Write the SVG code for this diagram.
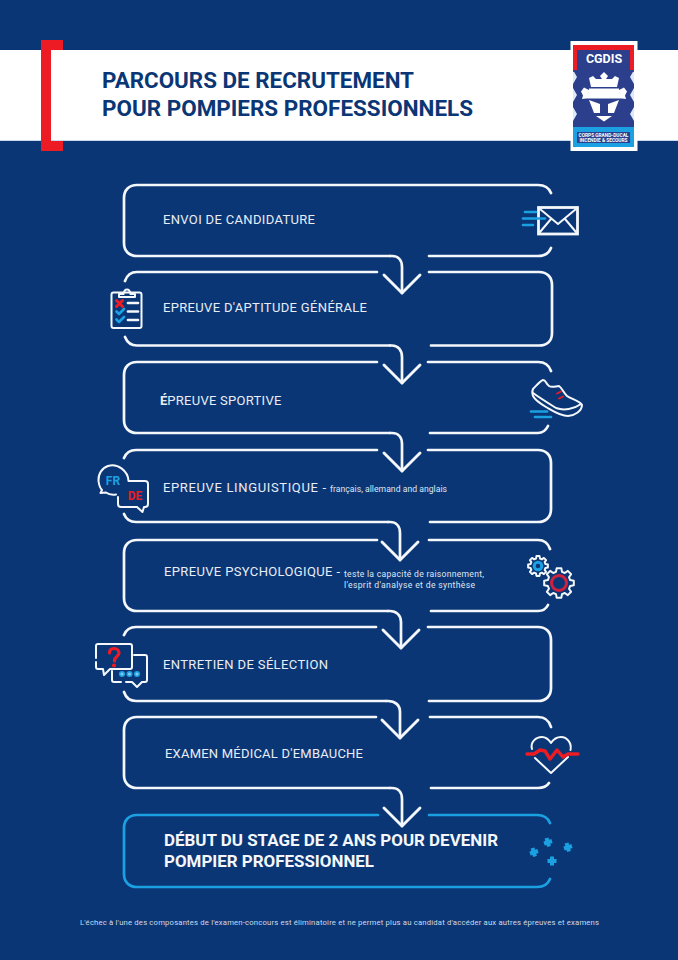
<svg xmlns="http://www.w3.org/2000/svg" width="678" height="960" viewBox="0 0 678 960">
<style>
.o{fill:none;stroke:#f4f7fb;stroke-width:2.7;stroke-linecap:round;stroke-linejoin:round}
.b{fill:none;stroke:#1ba1e2;stroke-width:2.7;stroke-linecap:round;stroke-linejoin:round}
.r{fill:none;stroke:#ed1c24;stroke-linecap:round;stroke-linejoin:round}
.i{fill:none;stroke:#f4f7fb;stroke-width:2;stroke-linecap:round;stroke-linejoin:round}
.t{font-family:Roboto,"Liberation Sans",sans-serif;font-size:13px;fill:#e9eef6}
.s{font-family:Roboto,"Liberation Sans",sans-serif;font-size:8.6px;fill:#dfe6f1}
.h{font-family:Roboto,"Liberation Sans",sans-serif;font-weight:700;font-size:21.5px;fill:#0a3675}
.f{font-family:Roboto,"Liberation Sans",sans-serif;font-weight:700;font-size:16.5px;fill:#f4f7fb}
.l{font-family:Roboto,"Liberation Sans",sans-serif;font-weight:700;fill:#fff}
</style>
<defs>
<marker id="chev" markerUnits="userSpaceOnUse" markerWidth="44" markerHeight="44" viewBox="0 0 44 44" refX="22" refY="22" orient="auto">
<path d="M4 4 L22 22 L4 40" fill="none" stroke="#f4f7fb" stroke-width="2.900" stroke-linecap="round" stroke-linejoin="round"/>
</marker>
<path id="gear" d="M7.44 -1.99L9.88 -1.56 9.88 1.56 7.44 1.99 6.67 3.85 8.09 5.88 5.88 8.09 3.85 6.67 1.99 7.44 1.56 9.88 -1.56 9.88 -1.99 7.44 -3.85 6.67 -5.88 8.09 -8.09 5.88 -6.67 3.85 -7.44 1.99 -9.88 1.56 -9.88 -1.56 -7.44 -1.99 -6.67 -3.85 -8.09 -5.88 -5.88 -8.09 -3.85 -6.67 -1.99 -7.44 -1.56 -9.88 1.56 -9.88 1.99 -7.44 3.85 -6.67 5.88 -8.09 8.09 -5.88 6.67 -3.85Z" fill="none" stroke="#f4f7fb" stroke-width="2" stroke-linejoin="round" vector-effect="non-scaling-stroke"/>
</defs>
<rect width="678" height="960" fill="#0a3675"/>

<g id="header">
<rect x="0" y="50" width="678" height="90" fill="#fff"/>
<rect x="0" y="140" width="678" height="1" fill="#c9d8ee"/>
<path d="M41 40H63V50H51V141H63V151H41Z" fill="#ed1c24"/>
<text class="h" x="102" y="88" textLength="312" lengthAdjust="spacingAndGlyphs">PARCOURS DE RECRUTEMENT</text>
<text class="h" x="102" y="116" textLength="371" lengthAdjust="spacingAndGlyphs">POUR POMPIERS PROFESSIONNELS</text>
</g>

<g id="logo">
<rect x="570.500" y="41" width="67" height="110" fill="#fff"/>
<rect x="573" y="45" width="61" height="102" fill="#dbe9f8"/>
<path d="M573 45H634V72H573Z" fill="#ed1c24"/>
<path d="M577 50H630V70H634L630 77 634 84V88L630 95 634 102V107L630 114 634 121V127H573V121L577 114 573 107V102L577 95 573 88V84L577 77 573 70H577Z" fill="#2b3f8c"/>
<rect x="573" y="127" width="61" height="20" fill="#1ba1e2"/>
<rect x="577" y="132" width="53" height="11" fill="#2b3f8c"/>
<text class="l" x="604" y="63" font-size="12.500" text-anchor="middle">CGDIS</text>
<path d="M604 72L608 76 606 79H612L615 76 619 78 617 87H591L589 78 593 76 596 79H602L600 76Z" fill="#fff"/>
<path d="M589 88.500H619V90L624 87.500 627 91.500 625 95.500 626 99 622 98.500H586L582 99 583 95.500 581 91.500 584 87.500 589 90Z" fill="#fff"/>
<path d="M589 100L600 104V113H594ZM619 100L608 104V113H614Z" fill="#fff"/>
<path d="M596 116H612L604 121.500Z" fill="#fff"/>
<text class="l" x="603.500" y="137" font-size="4.800" text-anchor="middle">CORPS GRAND-DUCAL</text>
<text class="l" x="603.500" y="142" font-size="4.800" text-anchor="middle">INCENDIE &amp; SECOURS</text>
</g>

<g id="connectors">
<path class="o" d="M390 256H392C398 256 402 260 402 267V293" marker-end="url(#chev)"/>
<path class="o" d="M390 345.500H392C398 345.500 402 350 402 357V383" marker-end="url(#chev)"/>
<path class="o" d="M390 433H392C398 433 402 437 402 444V471" marker-end="url(#chev)"/>
<path class="o" d="M388 522H390C396 522 400 526 400 533V560" marker-end="url(#chev)"/>
<path class="o" d="M388 611H390C396 611 401 615 401 622V648" marker-end="url(#chev)"/>
<path class="o" d="M386 701H388C395 701 400 705 400 712V738" marker-end="url(#chev)"/>
<path class="o" d="M390 788H392C398 788 402 792 402 799V826" marker-end="url(#chev)"/>
</g>

<g id="n1">
<path class="o" d="M551 193C549 188 544 185 538 185H137C129 185 124 190 124 198V243C124 251 129 256 137 256H390"/>
<path class="o" d="M429 256H538C544 256 549 253 551 248"/>
<text class="t" x="163" y="224" textLength="152">ENVOI DE CANDIDATURE</text>
<g>
<rect x="538.500" y="207.500" width="39" height="26.500" fill="none" stroke="#f4f7fb" stroke-width="2.800"/>
<path class="i" stroke-width="2.500" d="M540 209L558 224 576 209M540 232L551 219M576 232L565 219"/>
<path class="b" stroke-linecap="butt" d="M525 212H536M523 218.500H545M523 225H533"/>
</g>
</g>

<g id="n2">
<path class="o" d="M125 281C127 275 131 272 137 272H377"/>
<path class="o" d="M429 272H539C547 272 552 277 552 285V333C552 341 547 345.500 539 345.500H431"/>
<path class="o" d="M125 337C127 342 131 345.500 137 345.500H390"/>
<text class="t" x="163" y="312" textLength="204">EPREUVE D'APTITUDE GÉNÉRALE</text>
<g>
<rect x="111.500" y="292.500" width="30" height="35.500" rx="2" class="i" stroke-width="2.300"/>
<path class="i" d="M119 297V294H123.500C124 291 125 289.500 127 289.500S130 291 130.500 294H135V297Z"/>
<path class="r" stroke-width="3" stroke-linecap="butt" d="M116.500 300.500L122.500 306.500M122.500 300.500L116.500 306.500"/>
<path class="b" stroke-width="2.500" d="M116.500 311.500L119 314 124 309M116.500 319.500L119 322 124 317"/>
<path class="o" stroke-width="2.200" stroke-linecap="butt" d="M128 303H138M128 311.500H138M128 320H138"/>
</g>
</g>

<g id="n3">
<path class="o" d="M377 362H137C129 362 124 367 124 375V420C124 428 129 433 137 433H390"/>
<path class="o" d="M428 362H538C544 362 549 365 551 371"/>
<path class="o" d="M430 433H538C543 433 546 430 548 426"/>
<text class="t" x="160" y="405"><tspan font-weight="700">É</tspan><tspan textLength="114">PREUVE SPORTIVE</tspan></text>
<g>
<path class="i" stroke-width="1.600" d="M533 389C537 385 540 381 543 380C546 380 546 384 549 386C552 388 556 386 559 386C562 388 563 392 567 396C571 399 580 401 582 405C582 411 574 416 568 416C560 416 553 411 546 407C541 404 535 400 533 396C532 393 532 391 533 389Z"/>
<path class="i" stroke-width="1.600" d="M533 393C540 398 548 403 556 408C564 411 574 409 581 404"/>
<path class="r" stroke="#d0213f" stroke-width="1.700" d="M557 393.500L561 391.500M559 398.500L563 396.500"/>
<path class="b" stroke-width="1.500" stroke-linecap="butt" d="M531 411.500H542M544 411.500H547M535 417H547M549 417H551"/>
</g>
</g>

<g id="n4">
<path class="o" d="M124 458C126 453 130 450 136 450H377"/>
<path class="o" d="M428 450H538C546 450 551 455 551 463V509C551 517 546 522 538 522H430"/>
<path class="o" d="M124 514C126 519 130 522 136 522H388"/>
<text class="t" x="163" y="492" textLength="163">EPREUVE LINGUISTIQUE -</text>
<text class="s" x="330" y="492" textLength="117">français, allemand and anglais</text>
<g>
<path class="i" stroke-width="2.200" d="M108 466C102 468 98 474 98.500 481C99 485 100 488 102 490L100.500 493L106 492.500C108 494 112 495 116 494.500"/>
<path class="i" stroke-width="2.200" d="M108 466C118 463 128 471 128.500 481"/>
<path class="i" stroke-width="2.200" d="M129 481H145C147 481 148 482 148 484V504C148 506 147 507 145 507H144L142.500 512 137 507H121C119 507 118 506 118 504V497"/>
<text x="113" y="484.500" font-family="Roboto,sans-serif" font-weight="700" font-size="12" fill="#1ba1e2" text-anchor="middle">FR</text>
<text x="135" y="500" font-family="Roboto,sans-serif" font-weight="700" font-size="12" fill="#ed1c24" text-anchor="middle">DE</text>
</g>
</g>

<g id="n5">
<path class="o" d="M377 540H137C129 540 124 545 124 553V598C124 606 129 611 137 611H388"/>
<path class="o" d="M429 540H538C544 540 548 543 550 549"/>
<path class="o" d="M431 611H538C543 611 546 609 548 605"/>
<text class="t" x="164" y="576" textLength="176">EPREUVE PSYCHOLOGIQUE -</text>
<text class="s" x="344" y="577" textLength="140">teste la capacité de raisonnement,</text>
<text class="s" x="344" y="588" textLength="131">l'esprit d'analyse et de synthèse</text>
<g>
<use href="#gear" transform="translate(538 566)"/>
<circle cx="538" cy="566" r="3.800" fill="none" stroke="#1ba1e2" stroke-width="3"/>
<use href="#gear" transform="translate(559 583) scale(1.500)"/>
<circle cx="559" cy="583" r="7.500" fill="none" stroke="#d0213f" stroke-width="3"/>
</g>
</g>

<g id="n6">
<path class="o" d="M124 635C126 630 130 627 136 627H376"/>
<path class="o" d="M428 627H538C546 627 551 632 551 640V688C551 696 546 701 538 701H429"/>
<path class="o" d="M124 692C126 698 130 701 136 701H386"/>
<text class="t" x="163" y="669" textLength="165">ENTRETIEN DE SÉLECTION</text>
<g>
<path class="i" stroke-width="2.200" d="M96 658V646C96 645 97 644 98 644H130C131 644 132 645 132 646V667C132 668 131 669 130 669H110L104 675 103 669H98C97 669 96 668 96 667V662"/>
<path class="i" stroke-width="2.200" d="M134 655H145C146 655 147 656 147 657V680C147 681 146 682 145 682H142L137 687 132 682H126"/>
<path class="i" stroke-width="2.200" d="M112 671V680C112 681 113 682 114 682H121"/>
<path class="r" stroke-width="3.200" d="M109.500 653C109.500 650 111.500 648.500 114 648.500C117 648.500 119 650.500 119 653C119 656 115 657 114.500 660V661"/>
<circle cx="114" cy="665.500" r="2.100" fill="#ed1c24"/>
<g fill="#7fc9ef" stroke="#1ba1e2" stroke-width="1.500"><circle cx="122" cy="674" r="2.300"/><circle cx="129.500" cy="674" r="2.300"/><circle cx="137" cy="674" r="2.300"/></g>
</g>
</g>

<g id="n7">
<path class="o" d="M376 717H137C129 717 124 722 124 730V775C124 783 129 788 137 788H390"/>
<path class="o" d="M430 717H538C544 717 549 720 551 727"/>
<path class="o" d="M431 788H538C543 788 547 786 549 783"/>
<text class="t" x="165" y="758" textLength="198">EXAMEN MÉDICAL D'EMBAUCHE</text>
<g>
<path class="i" d="M532 749C530 742 536 737 542 737C546 737 549 740 551 743C553 740 556 737 561 737C567 737 572 743 570.500 750"/>
<path class="i" d="M535 758L551 773 568 757"/>
<path class="r" stroke-width="3.400" d="M527 754H534L540 750 545 751 550 759 557 750 563 757 568 754H578"/>
</g>
</g>

<g id="n8">
<path class="b" d="M378 815H137C129 815 124 820 124 828V874C124 882 129 887 137 887H537C543 887 548 884 550 879"/>
<path class="b" d="M429 815H537C543 815 548 818 550 823"/>
<text class="f" x="164" y="846" textLength="334" lengthAdjust="spacingAndGlyphs">DÉBUT DU STAGE DE 2 ANS POUR DEVENIR</text>
<text class="f" x="164" y="867" textLength="210" lengthAdjust="spacingAndGlyphs">POMPIER PROFESSIONNEL</text>
<g stroke="#1ba1e2" stroke-width="4" fill="none">
<path d="M544 843.500L552 841M546.500 838L549 846.500"/>
<path d="M564 848.500L572 846M566.500 843L569 851.500"/>
<path d="M530 853.500L538 851M532.500 848L535 856.500"/>
<path d="M547.500 861H556.500M552 856.500V865.500"/>
</g>
</g>

<g id="footnote">
<text x="80" y="925" font-family="Roboto,'Liberation Sans',sans-serif" font-size="7.700" fill="#cfd9e8" textLength="519">L'échec à l'une des composantes de l'examen-concours est éliminatoire et ne permet plus au candidat d'accéder aux autres épreuves et examens</text>
</g>
</svg>
